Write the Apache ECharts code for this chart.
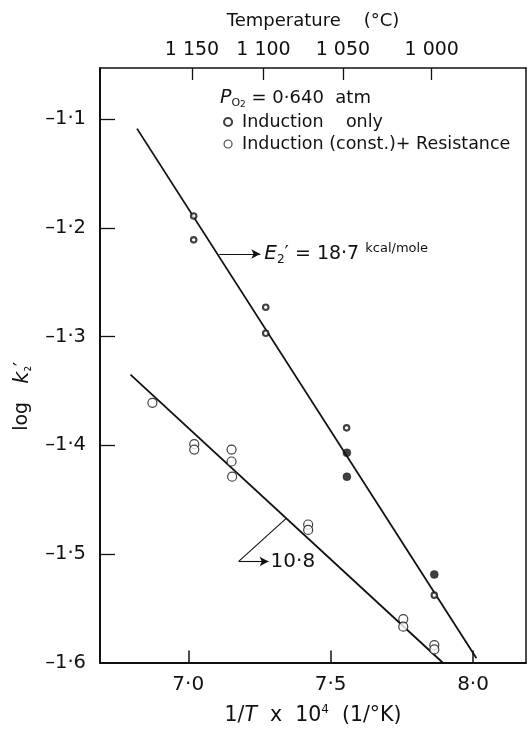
<!DOCTYPE html>
<html>
<head>
<meta charset="utf-8">
<script src="https://cdn.jsdelivr.net/npm/echarts@6/dist/echarts.min.js"></script>
<style>
  html, body { margin: 0; padding: 0; background: #fff; }
  #chart { width: 531px; height: 731px; }
</style>
</head>
<body>
<div id="chart"></div>
<script>
// log k2' against 1/T x 10^4, oxygen pressure 0.640 atm

// Induction heating only
const inductionOnly = [
  [7.019, -1.189], [7.019, -1.211],
  [7.272, -1.273], [7.272, -1.297],
  [7.556, -1.384], [7.557, -1.407], [7.557, -1.429],
  [7.864, -1.519], [7.864, -1.538]
];
const inductionOnlySolid = [false, false, false, false, false, true, true, true, false];

// Induction (constant) plus resistance heating
const inductionResistance = [
  [6.874, -1.361],
  [7.021, -1.399], [7.021, -1.404],
  [7.152, -1.404], [7.152, -1.415], [7.154, -1.429],
  [7.421, -1.473], [7.421, -1.478],
  [7.755, -1.560], [7.755, -1.567],
  [7.864, -1.584], [7.864, -1.588]
];

// Fitted straight lines (end points)
const fitInductionOnly = [[6.820, -1.1086], [8.012, -1.596]];
const fitInductionResistance = [[6.797, -1.335], [7.893, -1.600]];

// Activation energy callouts (kcal/mole) and their leader lines
const energyUpper = '18·7';
const energyLower = '10·8';
const arrowUpper = [[7.109, -1.224], [7.253, -1.224]];
const leaderLower = [[7.343, -1.4676], [7.177, -1.507]];
const arrowLower = [[7.177, -1.507], [7.282, -1.507]];

// Axes
const xRange = [6.69, 8.186];
const yRange = [-1.6, -1.0528];
const xTicks = [7.0, 7.5, 8.0];
const yTicks = [-1.1, -1.2, -1.3, -1.4, -1.5];
const yLabelValues = [-1.1, -1.2, -1.3, -1.4, -1.5, -1.6];
const tempLabels = ['1 150', '1 100', '1 050', '1 000'];
const tempTickAt = [7.013, 7.264, 7.543, 7.855];

const seriesNames = ['Induction only', 'Induction (const.)+ Resistance'];

const FONT = 'DejaVu Sans';
const INK = '#111';

function dotted(v) {
  return (v < 0 ? '–' : '') + Math.abs(v).toFixed(1).replace('.', '·');
}

function rt(size, extra) {
  return Object.assign({ fontFamily: FONT, fontSize: size, fontWeight: 'normal', color: INK }, extra || {});
}

const chart = echarts.init(document.getElementById('chart'), null, { renderer: 'canvas' });

const ringStyle = { color: '#fff', borderColor: INK, borderWidth: 2.1 };
const solidStyle = { color: INK, borderColor: INK, borderWidth: 0.5 };

chart.setOption({
  animation: false,
  backgroundColor: '#fff',
  textStyle: { fontFamily: FONT, color: INK },
  grid: { left: 100, right: 5, top: 68, bottom: 66, containLabel: false },
  title: {
    text: '{p|P}{s|O}{s2|2}{t| = 0·640  atm}',
    left: 220,
    top: 87,
    padding: 0,
    textStyle: {
      fontWeight: 'normal',
      rich: {
        p: rt(19, { fontStyle: 'italic', lineHeight: 22 }),
        s: rt(11, { lineHeight: 11, verticalAlign: 'bottom' }),
        s2: rt(9, { lineHeight: 8, verticalAlign: 'bottom' }),
        t: rt(18, { lineHeight: 22 })
      }
    }
  },
  legend: {
    orient: 'vertical',
    left: 223,
    top: 112,
    padding: 0,
    itemGap: 2,
    itemWidth: 18,
    itemHeight: 8,
    selectedMode: false,
    formatter: function (name) {
      return name === seriesNames[0] ? 'Induction    only' : name;
    },
    data: [
      { name: seriesNames[0], icon: 'circle',
        itemStyle: { color: '#fff', borderColor: INK, borderWidth: 2.1 } },
      { name: seriesNames[1], icon: 'circle',
        itemStyle: { color: '#fff', borderColor: INK, borderWidth: 1.1 } }
    ],
    textStyle: { fontFamily: FONT, fontSize: 17.5, color: INK, lineHeight: 20 }
  },
  xAxis: [
    {
      type: 'value', position: 'bottom', min: xRange[0], max: xRange[1],
      name: '{t|1/}{i|T}{t|  x  10}{sup|4}{t|  (1/°K)}',
      nameLocation: 'middle', nameGap: 41,
      nameTextStyle: {
        rich: {
          t: rt(20.5, { lineHeight: 24 }),
          i: rt(20.5, { fontStyle: 'italic', lineHeight: 24 }),
          sup: rt(12, { lineHeight: 12, verticalAlign: 'top' })
        }
      },
      axisLine: { show: true, onZero: false, lineStyle: { color: INK, width: 2 } },
      axisTick: { show: true, inside: true, length: 12, customValues: xTicks,
                  lineStyle: { color: INK, width: 1.5 } },
      axisLabel: { customValues: xTicks, formatter: dotted, margin: 12,
                   fontFamily: FONT, fontSize: 20, color: INK },
      splitLine: { show: false }
    },
    {
      type: 'value', position: 'top', min: xRange[0], max: xRange[1],
      name: 'Temperature    (°C)',
      nameLocation: 'middle', nameGap: 38,
      nameTextStyle: { fontFamily: FONT, fontSize: 18, color: INK },
      axisLine: { show: true, onZero: false, lineStyle: { color: INK, width: 1.5 } },
      axisTick: { show: true, inside: true, length: 12, customValues: tempTickAt,
                  lineStyle: { color: INK, width: 1.3 } },
      axisLabel: {
        customValues: tempTickAt, margin: 8, fontFamily: FONT, fontSize: 19, color: INK,
        formatter: function (v) {
          const i = tempTickAt.findIndex(function (t) { return Math.abs(t - v) < 1e-6; });
          return i >= 0 ? tempLabels[i] : '';
        }
      },
      splitLine: { show: false }
    }
  ],
  yAxis: [
    {
      type: 'value', position: 'left', min: yRange[0], max: yRange[1],
      name: '{t|log   }{i|k}{s|₂}{t|′}{g| }',
      nameLocation: 'middle', nameGap: 46, nameRotate: 90,
      nameTextStyle: {
        rich: {
          t: rt(19, { lineHeight: 24 }),
          i: rt(21, { fontStyle: 'italic', lineHeight: 24 }),
          s: rt(14, { lineHeight: 14, verticalAlign: 'bottom' }),
          g: rt(10, { width: 62, lineHeight: 24 })
        }
      },
      axisLine: { show: true, onZero: false, lineStyle: { color: INK, width: 2 } },
      axisTick: { show: true, inside: true, length: 15, customValues: yTicks,
                  lineStyle: { color: INK, width: 1.3 } },
      axisLabel: { customValues: yLabelValues, formatter: dotted, margin: 14,
                   fontFamily: FONT, fontSize: 19.5, color: INK },
      splitLine: { show: false }
    },
    {
      type: 'value', position: 'right', min: yRange[0], max: yRange[1],
      axisLine: { show: true, onZero: false, lineStyle: { color: INK, width: 1.5 } },
      axisTick: { show: false }, axisLabel: { show: false }, splitLine: { show: false }
    }
  ],
  series: [
    {
      type: 'line', name: 'fit-induction', data: fitInductionOnly,
      symbol: 'none', silent: true, z: 1,
      lineStyle: { color: INK, width: 1.8 },
      markLine: {
        silent: true, symbol: ['none', 'arrow'], symbolSize: [7, 9],
        lineStyle: { color: INK, width: 1.1, type: 'solid' },
        label: {
          show: true, position: 'end', distance: 4,
          formatter: '{e|E}{s|2}{t|′ = ' + energyUpper + ' }{u|kcal/mole}',
          rich: {
            e: rt(20, { fontStyle: 'italic', lineHeight: 24 }),
            s: rt(12, { lineHeight: 12, verticalAlign: 'bottom' }),
            t: rt(19, { lineHeight: 24 }),
            u: rt(13, { lineHeight: 16, verticalAlign: 'top' })
          }
        },
        data: [[{ coord: arrowUpper[0] }, { coord: arrowUpper[1] }]]
      }
    },
    {
      type: 'line', name: 'fit-resistance', data: fitInductionResistance,
      symbol: 'none', silent: true, z: 1,
      lineStyle: { color: INK, width: 1.8 },
      markLine: {
        silent: true, symbol: ['none', 'arrow'], symbolSize: [7, 9],
        lineStyle: { color: INK, width: 1.1, type: 'solid' },
        label: { show: false },
        data: [
          [{ coord: leaderLower[0], symbol: 'none' }, { coord: leaderLower[1], symbol: 'none' }],
          [{ coord: arrowLower[0] },
           { coord: arrowLower[1],
             label: { show: true, position: 'end', distance: 2, formatter: energyLower,
                      fontFamily: FONT, fontSize: 20, color: INK } }]
        ]
      }
    },
    {
      type: 'scatter', name: seriesNames[0], z: 3,
      symbol: 'circle', symbolSize: 5.5,
      itemStyle: ringStyle,
      data: inductionOnly.map(function (p, i) {
        return inductionOnlySolid[i]
          ? { value: p, symbolSize: 8, itemStyle: solidStyle }
          : { value: p };
      })
    },
    {
      type: 'scatter', name: seriesNames[1], z: 3,
      symbol: 'circle', symbolSize: 9,
      itemStyle: { color: '#fff', borderColor: INK, borderWidth: 1.2 },
      data: inductionResistance
    }
  ]
});
</script>
</body>
</html>
